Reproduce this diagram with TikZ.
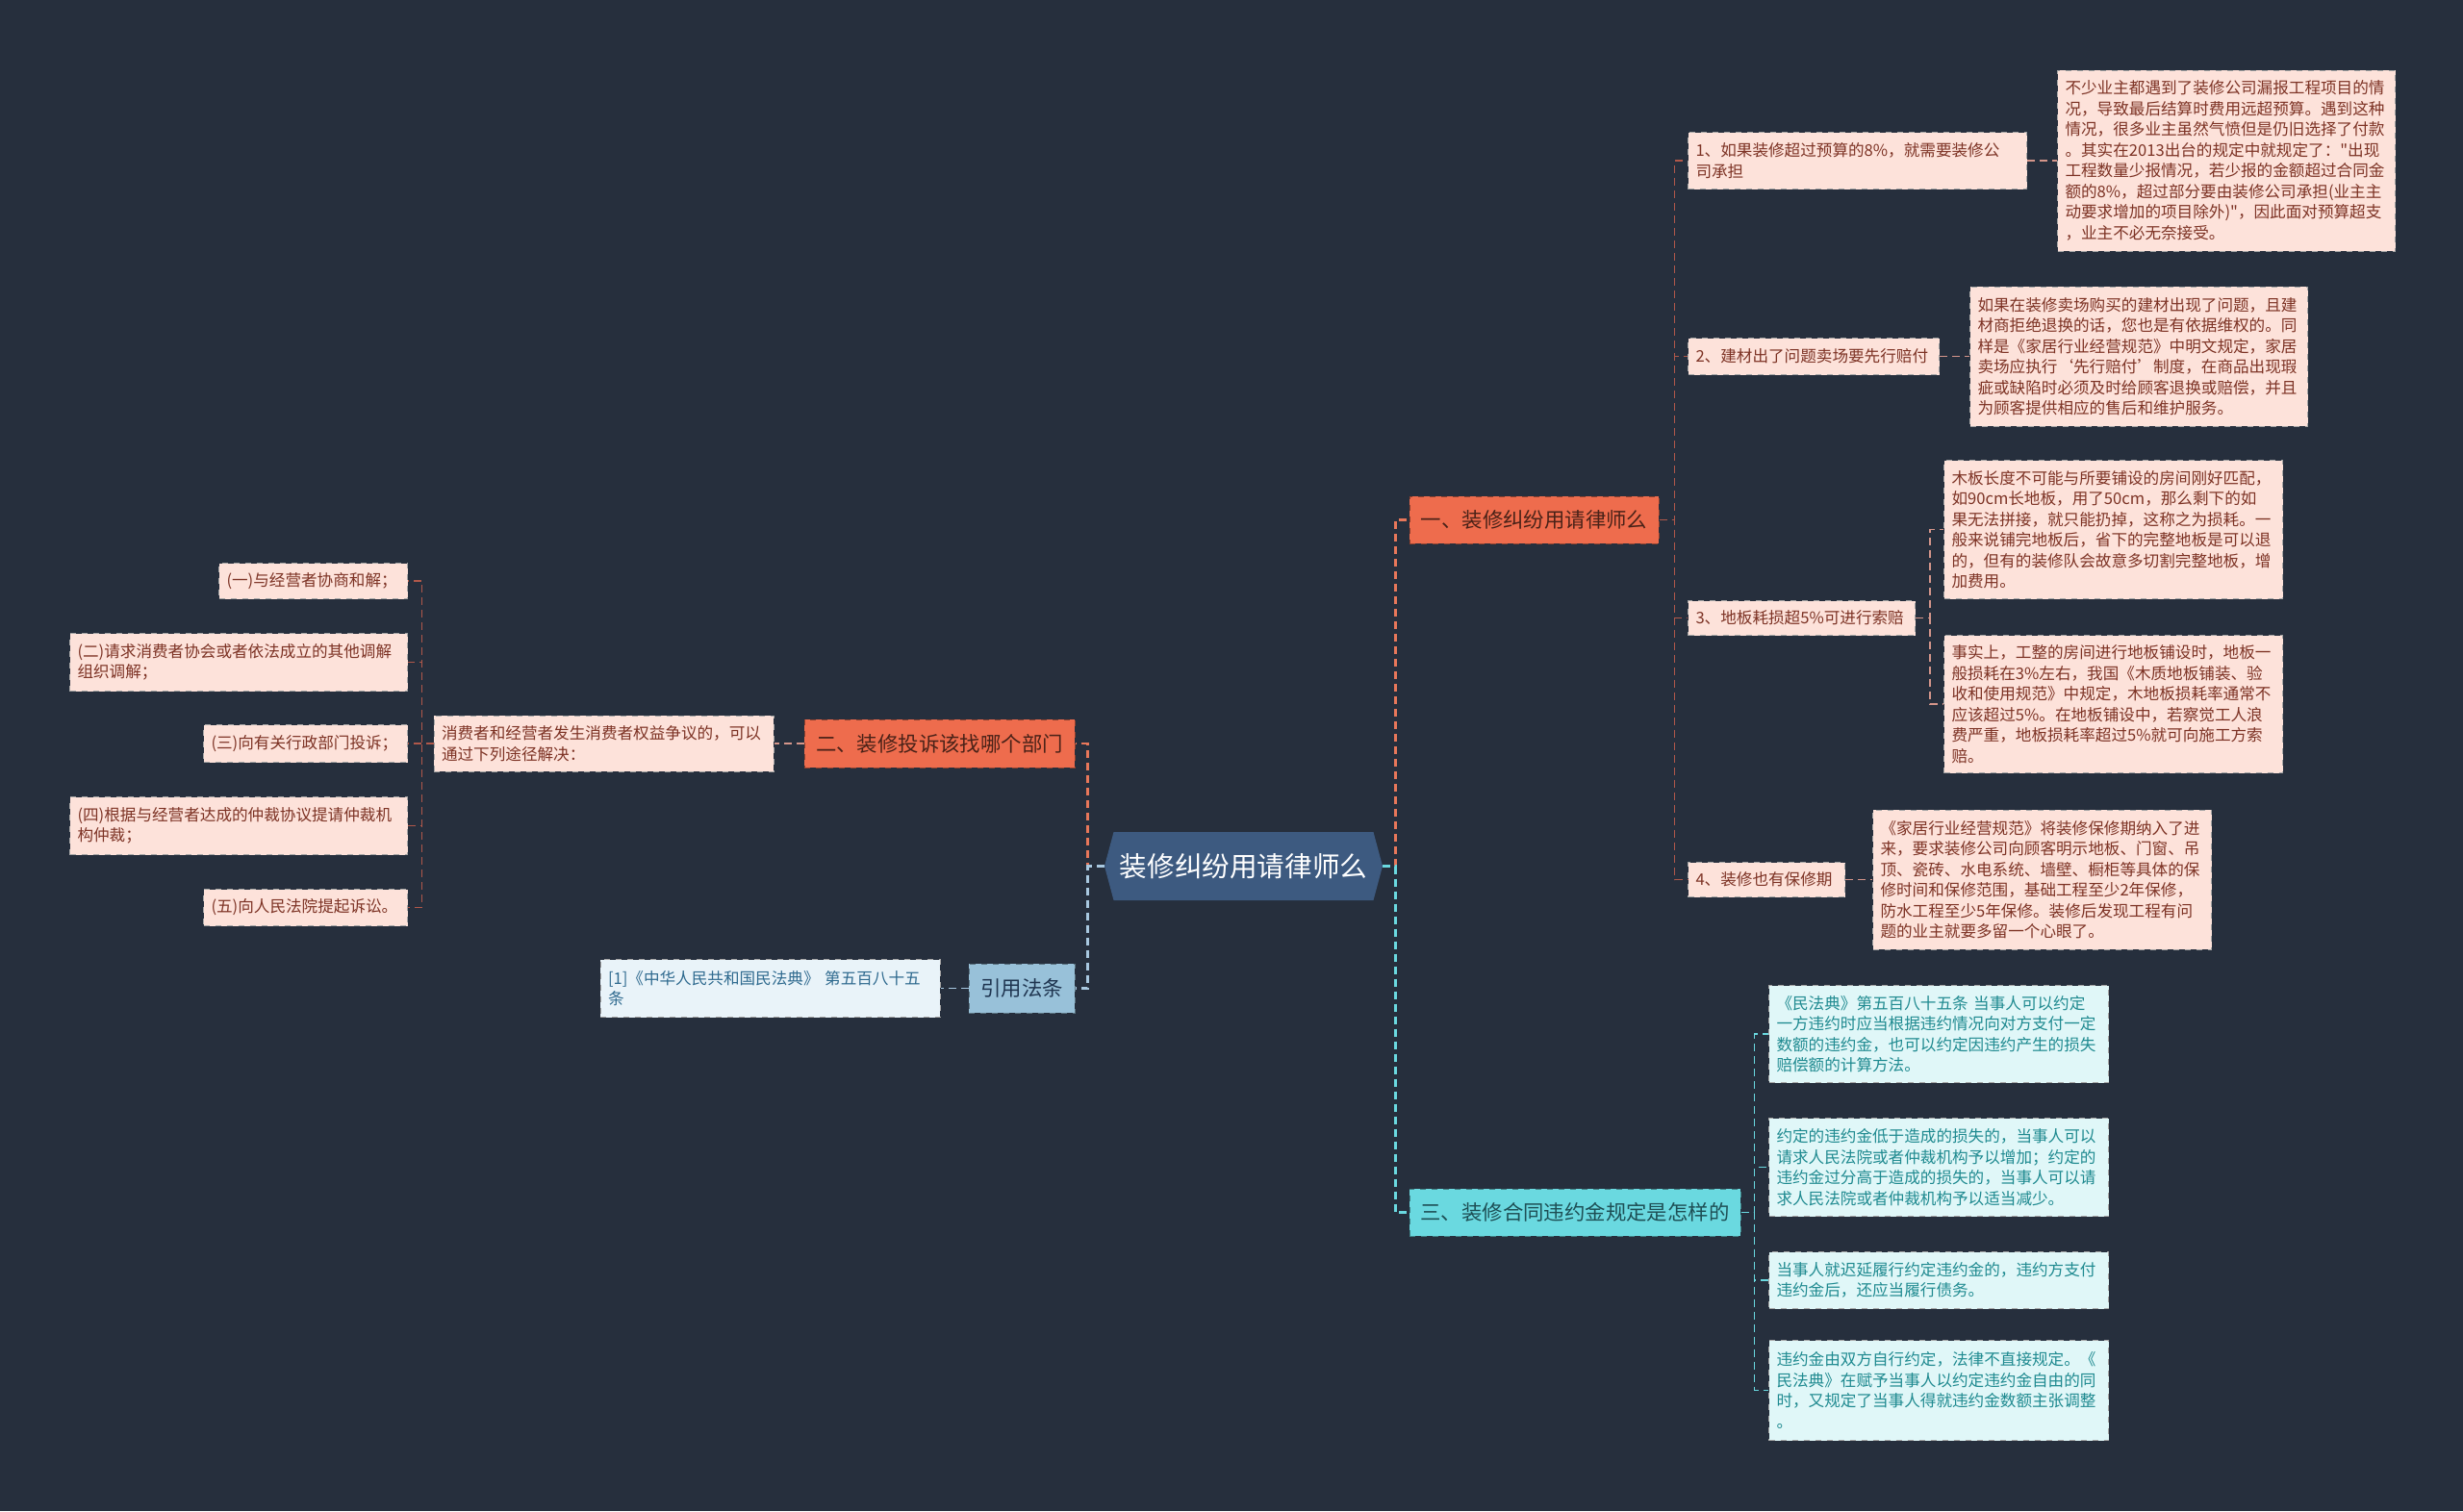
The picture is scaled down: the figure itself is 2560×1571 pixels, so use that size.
\documentclass[tikz,border=0pt]{standalone}
\usepackage{fontspec}
\setmainfont{Noto Sans CJK SC}[Ligatures=TeXOff]
\usetikzlibrary{shapes.symbols, positioning}

\definecolor{bgc}{HTML}{262F3D}
\definecolor{rootc}{HTML}{3D5A80}
\definecolor{coral}{HTML}{EE6C4D}
\definecolor{coraltext}{HTML}{4A2218}
\definecolor{cyanb}{HTML}{6AD9E0}
\definecolor{cyantext}{HTML}{1E4F55}
\definecolor{citeb}{HTML}{98C1D9}
\definecolor{citetext}{HTML}{1F3550}
\definecolor{pinkfill}{HTML}{FDE2DA}
\definecolor{pinktext}{HTML}{7D3325}
\definecolor{icefill}{HTML}{E0F7F8}
\definecolor{icetext}{HTML}{1F8A90}
\definecolor{palefill}{HTML}{E9F3F9}
\definecolor{paletext}{HTML}{2F6A8F}
\definecolor{lkcoral}{HTML}{E8775A}
\definecolor{lksub}{HTML}{B0584A}
\definecolor{lkleaf}{HTML}{D4958A}
\definecolor{lkcyan}{HTML}{6AD9E0}
\definecolor{lkcite}{HTML}{A8C8E0}

\newcommand\rootfont{\fontsize{14.3pt}{16pt}\selectfont}
\newcommand\branchfont{\fontsize{10.7pt}{12pt}\selectfont}
\newcommand\leaffont{\fontsize{8.3pt}{10.75pt}\selectfont}

\begin{document}
\begin{tikzpicture}[x=0.5pt, y=-0.5pt,
    rootnode/.style={shape=signal, signal to=west and east, signal pointer angle=150,
        fill=rootc, text=white, font=\rootfont, inner sep=0pt,
        minimum width=144.5pt, minimum height=35.5pt},
    branch/.style={draw, dashed, line width=0.5pt, font=\branchfont, inner sep=0pt},
    warm/.style={branch, fill=coral, draw=coral!60!black, text=coraltext},
    cool/.style={branch, fill=cyanb, draw=cyanb!60!black, text=cyantext},
    cite/.style={branch, fill=citeb, draw=citeb!60!black, text=citetext},
    leaf/.style={draw, dashed, line width=0.5pt, font=\leaffont, align=left,
        inner xsep=4pt, inner ysep=0pt},
    leafwarm/.style={leaf, fill=pinkfill, draw=gray!70, text=pinktext},
    leafcool/.style={leaf, fill=icefill, draw=gray!70, text=icetext},
    leafcite/.style={leaf, fill=palefill, draw=gray!70, text=paletext},
    lk/.style={dash pattern=on 4pt off 2.5pt, line width=0.75pt},
    lkroot/.style={lk, line width=1.25pt}]

    \fill[bgc] (0,0) rectangle (2560,1571);

    % root and main branches
    \node[rootnode] (root) at (1292.5,900.5) {装修纠纷用请律师么};
    \node[warm, minimum width=129.5pt, minimum height=24.5pt] (b1) at (1594.5,540.5) {一、装修纠纷用请律师么};
    \node[warm, minimum width=140.5pt, minimum height=25pt] (b2) at (976.5,773) {二、装修投诉该找哪个部门};
    \node[cite, minimum width=55pt, minimum height=25.5pt] (cite) at (1062,1027.5) {引用法条};
    \node[cool, minimum width=172pt, minimum height=24.5pt] (b3) at (1637,1260.5) {三、装修合同违约金规定是怎样的};

    % branch one
    \node[leafwarm, anchor=north west, text width=168pt, minimum height=29.5pt] (s1) at (1754,137)
        {1、如果装修超过预算的8\%，就需要装修公\\司承担};
    \node[leafwarm, anchor=north west, text width=122.5pt, minimum height=19pt] (s2) at (1754,351)
        {2、建材出了问题卖场要先行赔付};
    \node[leafwarm, anchor=north west, text width=110pt, minimum height=18pt] (s3) at (1754,624)
        {3、地板耗损超5\%可进行索赔};
    \node[leafwarm, anchor=north west, text width=73.5pt, minimum height=18pt] (s4) at (1754,896)
        {4、装修也有保修期};

    \node[leafwarm, text width=167.5pt, minimum height=94pt, right=15.5pt of s1] (d1)
        {不少业主都遇到了装修公司漏报工程项目的情\\
         况，导致最后结算时费用远超预算。遇到这种\\
         情况，很多业主虽然气愤但是仍旧选择了付款\\
         。其实在2013出台的规定中就规定了："出现\\
         工程数量少报情况，若少报的金额超过合同金\\
         额的8\%，超过部分要由装修公司承担(业主主\\
         动要求增加的项目除外)"，因此面对预算超支\\
         ，业主不必无奈接受。};
    \node[leafwarm, text width=167.5pt, minimum height=72.5pt, right=15.5pt of s2] (d2)
        {如果在装修卖场购买的建材出现了问题，且建\\
         材商拒绝退换的话，您也是有依据维权的。同\\
         样是《家居行业经营规范》中明文规定，家居\\
         卖场应执行‘先行赔付’制度，在商品出现瑕\\
         疵或缺陷时必须及时给顾客退换或赔偿，并且\\
         为顾客提供相应的售后和维护服务。};
    \node[leafwarm, anchor=north west, text width=168pt, minimum height=72pt] (d3a) at (2020,478)
        {木板长度不可能与所要铺设的房间刚好匹配，\\
         如90cm长地板，用了50cm，那么剩下的如\\
         果无法拼接，就只能扔掉，这称之为损耗。一\\
         般来说铺完地板后，省下的完整地板是可以退\\
         的，但有的装修队会故意多切割完整地板，增\\
         加费用。};
    \node[leafwarm, anchor=north west, text width=168pt, minimum height=71.5pt] (d3b) at (2020,660)
        {事实上，工整的房间进行地板铺设时，地板一\\
         般损耗在3\%左右，我国《木质地板铺装、验\\
         收和使用规范》中规定，木地板损耗率通常不\\
         应该超过5\%。在地板铺设中，若察觉工人浪\\
         费严重，地板损耗率超过5\%就可向施工方索\\
         赔。};
    \node[leafwarm, text width=168pt, minimum height=72.5pt, right=14pt of s4] (d4)
        {《家居行业经营规范》将装修保修期纳入了进\\
         来，要求装修公司向顾客明示地板、门窗、吊\\
         顶、瓷砖、水电系统、墙壁、橱柜等具体的保\\
         修时间和保修范围，基础工程至少2年保修，\\
         防水工程至少5年保修。装修后发现工程有问\\
         题的业主就要多留一个心眼了。};

    % branch two
    \node[leafwarm, text width=168.5pt, minimum height=29pt, left=15.5pt of b2] (m)
        {消费者和经营者发生消费者权益争议的，可以\\通过下列途径解决：};
    \node[leafwarm, anchor=north west, text width=90pt, minimum height=18.5pt] (i1) at (227,585)
        {(一)与经营者协商和解；};
    \node[leafwarm, anchor=north west, text width=167.5pt, minimum height=30pt] (i2) at (72,658)
        {(二)请求消费者协会或者依法成立的其他调解\\组织调解；};
    \node[leafwarm, anchor=north west, text width=98pt, minimum height=19.5pt] (i3) at (211,753)
        {(三)向有关行政部门投诉；};
    \node[leafwarm, anchor=north west, text width=167.5pt, minimum height=30pt] (i4) at (72,828)
        {(四)根据与经营者达成的仲裁协议提请仲裁机\\构仲裁；};
    \node[leafwarm, anchor=north west, text width=98pt, minimum height=19pt] (i5) at (211,924)
        {(五)向人民法院提起诉讼。};

    % cited law
    \node[leafcite, text width=168.5pt, minimum height=30pt, left=14.5pt of cite] (cd)
        {[1]《中华人民共和国民法典》 第五百八十五\\条};

    % branch three
    \node[leafcool, anchor=north west, text width=168.5pt, minimum height=50.5pt] (c1) at (1838,1024)
        {《民法典》第五百八十五条 当事人可以约定\\
         一方违约时应当根据违约情况向对方支付一定\\
         数额的违约金，也可以约定因违约产生的损失\\
         赔偿额的计算方法。};
    \node[leafcool, anchor=north west, text width=168.5pt, minimum height=51pt] (c2) at (1838,1162)
        {约定的违约金低于造成的损失的，当事人可以\\
         请求人民法院或者仲裁机构予以增加；约定的\\
         违约金过分高于造成的损失的，当事人可以请\\
         求人民法院或者仲裁机构予以适当减少。};
    \node[leafcool, anchor=north west, text width=168.5pt, minimum height=29.5pt] (c3) at (1838,1301)
        {当事人就迟延履行约定违约金的，违约方支付\\
         违约金后，还应当履行债务。};
    \node[leafcool, anchor=north west, text width=168.5pt, minimum height=52pt] (c4) at (1838,1393)
        {违约金由双方自行约定，法律不直接规定。《\\
         民法典》在赋予当事人以约定违约金自由的同\\
         时，又规定了当事人得就违约金数额主张调整\\
         。};

    % connectors
    \draw[lkroot, draw=lkcoral] (root.east) -- ++(13,0) |- (b1.west);
    \draw[lkroot, draw=lkcyan] (root.east) -- ++(13,0) |- (b3.west);
    \draw[lkroot, draw=lkcoral] (root.west) -- ++(-17,0) |- (b2.east);
    \draw[lkroot, draw=lkcite] (root.west) -- ++(-17,0) |- (cite.east);

    \foreach \s in {s1,s2,s3,s4}
        \draw[lk, draw=lksub] (b1.east) -- ++(16,0) |- (\s.west);
    \draw[lk, draw=lkleaf] (s1.east) -- (s1.east -| d1.west);
    \draw[lk, draw=lkleaf] (s2.east) -- (s2.east -| d2.west);
    \draw[lk, draw=lkleaf] (s3.east) -- ++(15,0) |- (d3a.west);
    \draw[lk, draw=lkleaf] (s3.east) -- ++(15,0) |- (d3b.west);
    \draw[lk, draw=lkleaf] (s4.east) -- (s4.east -| d4.west);

    \draw[lk, draw=lkleaf] (b2.west) -- (b2.west -| m.east);
    \foreach \i in {i1,i2,i3,i4,i5}
        \draw[lk, draw=lksub] (m.west) -- ++(-12,0) |- (\i.east);

    \draw[lk, draw=lkcite] (cite.west) -- (cite.west -| cd.east);

    \foreach \c in {c1,c2,c3,c4}
        \draw[lk, draw=lkcyan] (b3.east) -- ++(14,0) |- (\c.west);
\end{tikzpicture}
\end{document}
